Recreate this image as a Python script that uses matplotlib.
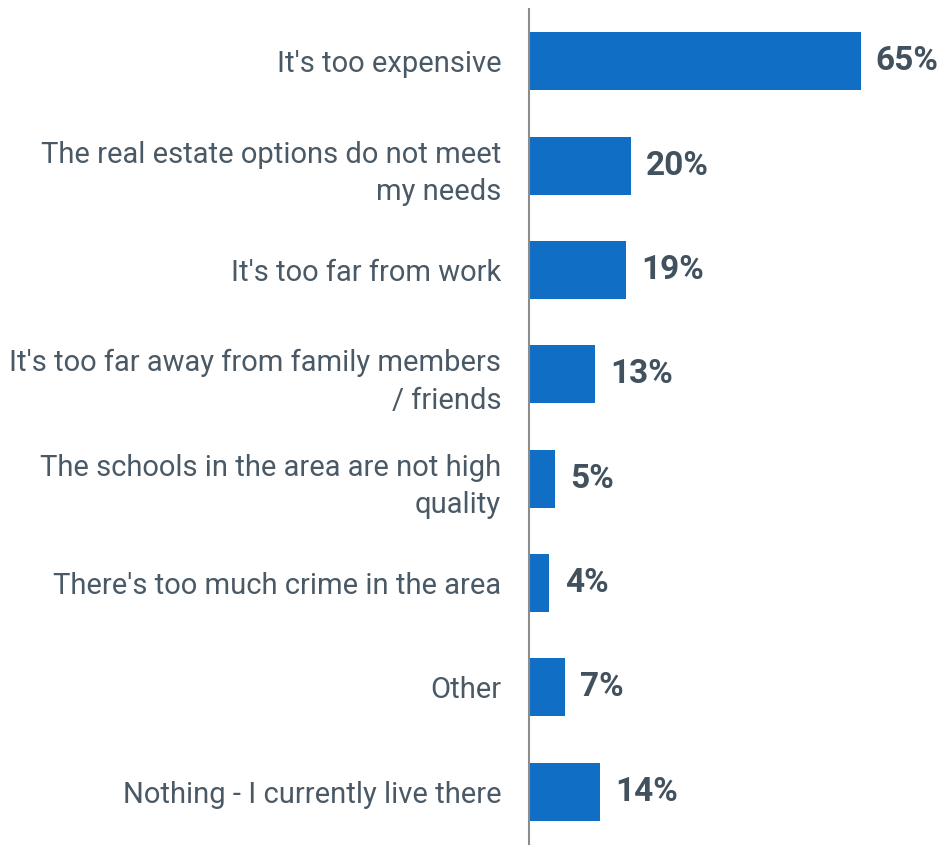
import matplotlib
matplotlib.use('Agg')
import matplotlib.pyplot as plt

plt.rcParams['font.family'] = ['Roboto', 'DejaVu Sans']

categories = [
    "It's too expensive",
    "The real estate options do not meet\nmy needs",
    "It's too far from work",
    "It's too far away from family members\n/ friends",
    "The schools in the area are not high\nquality",
    "There's too much crime in the area",
    "Other",
    "Nothing - I currently live there",
]
values = [65, 20, 19, 13, 5, 4, 7, 14]

bar_color = '#106fc5'
label_color = '#4a5966'
value_color = '#42515e'

fig = plt.figure(figsize=(9.42, 8.46), dpi=100)
ax = fig.add_axes([529 / 942, 2 / 846, 413 / 942, 835 / 846])

y = list(range(len(categories)))
ax.barh(y, values, height=0.555, color=bar_color)

ax.set_ylim(len(categories) - 0.5, -0.5)
ax.set_xlim(0, 413 / 5.1)

for yi, v in zip(y, values):
    ax.text(v + 3.0, yi, f'{v}%', va='center', ha='left',
            fontsize=24, fontweight='bold', color=value_color)

ax.set_yticks(y)
ax.set_yticklabels(categories, fontsize=21, color=label_color,
                   linespacing=1.43, ha='right')
ax.tick_params(axis='y', length=0, pad=20)
ax.set_xticks([])

for s in ['top', 'right', 'bottom']:
    ax.spines[s].set_visible(False)
ax.spines['left'].set_color('#8c8c8c')
ax.spines['left'].set_linewidth(1.5)

fig.savefig('out.png', dpi=100)
